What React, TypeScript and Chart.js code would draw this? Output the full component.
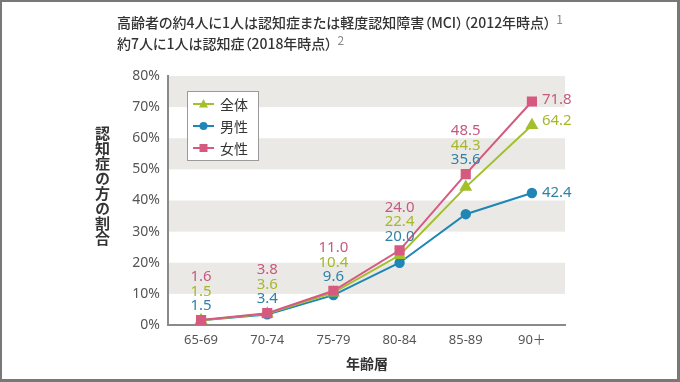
import { useEffect, useRef } from 'react';
import { Chart, registerables } from 'chart.js';

Chart.register(...registerables);

const categories = ['65-69', '70-74', '75-79', '80-84', '85-89', '90＋'];
const allValues = [1.5, 3.6, 10.4, 22.4, 44.3, 64.2];
const maleValues = [1.5, 3.4, 9.6, 20.0, 35.6, 42.4];
const femaleValues = [1.6, 3.8, 11.0, 24.0, 48.5, 71.8];
const seriesNames = ['全体', '男性', '女性'];
const bandRanges = [[70, 80], [50, 60], [30, 40], [10, 20]];

const JP = '"Noto Sans CJK JP", "Noto Sans", sans-serif';
const NUM = '"Noto Sans", "Noto Sans CJK JP", sans-serif';

const GREEN = '#a3bf2a';
const BLUE = '#1f86b5';
const PINK = '#d65a80';
const GREEN_T = '#a6b72c';
const BLUE_T = '#2f82a6';
const PINK_T = '#c55a80';

function drawMarker(ctx: CanvasRenderingContext2D, kind: string, x: number, y: number, color: string) {
  ctx.fillStyle = color;
  ctx.beginPath();
  if (kind === 'rect') {
    ctx.rect(x - 4, y - 4, 8, 8);
  } else if (kind === 'triangle') {
    ctx.moveTo(x, y - 5);
    ctx.lineTo(x + 4.5, y + 3.5);
    ctx.lineTo(x - 4.5, y + 3.5);
    ctx.closePath();
  } else {
    ctx.arc(x, y, 4, 0, Math.PI * 2);
  }
  ctx.fill();
}

const bandPlugin = {
  id: 'bands',
  beforeDatasetsDraw(chart: any) {
    const { ctx, chartArea, scales } = chart;
    const y = scales.y;
    ctx.save();
    ctx.fillStyle = '#ebe9e5';
    bandRanges.forEach(([a, b]) => {
      const t = y.getPixelForValue(b);
      const bt = y.getPixelForValue(a);
      ctx.fillRect(chartArea.left + 1, t, chartArea.right - chartArea.left - 1, bt - t);
    });
    ctx.restore();
  },
};

const labelPlugin = {
  id: 'valueLabels',
  afterDatasetsDraw(chart: any) {
    const { ctx, scales } = chart;
    const x = scales.x;
    const y = scales.y;
    ctx.save();
    ctx.font = `15px ${NUM}`;
    ctx.textBaseline = 'middle';
    const last = categories.length - 1;
    const rows: [number[], string][] = [
      [femaleValues, PINK_T],
      [allValues, GREEN_T],
      [maleValues, BLUE_T],
    ];
    categories.forEach((_, i) => {
      const px = x.getPixelForValue(i);
      if (i < last) {
        const top = y.getPixelForValue(femaleValues[i]);
        ctx.textAlign = 'center';
        rows.forEach(([vals, col], k) => {
          ctx.fillStyle = col;
          ctx.fillText(vals[i].toFixed(1), px, top - 43 + k * 14.5);
        });
      } else {
        ctx.textAlign = 'left';
        const offs = [-2, -4, 0];
        rows.forEach(([vals, col], k) => {
          ctx.fillStyle = col;
          ctx.fillText(vals[i].toFixed(1), px + 10, y.getPixelForValue(vals[i]) + offs[k]);
        });
      }
    });
    ctx.restore();
  },
};

const legendPlugin = {
  id: 'boxLegend',
  afterDraw(chart: any) {
    const { ctx, chartArea } = chart;
    const bx = chartArea.left + 19;
    const by = chartArea.top + 15;
    ctx.save();
    ctx.fillStyle = '#ffffff';
    ctx.fillRect(bx, by, 71, 69);
    ctx.strokeStyle = '#9a9a9a';
    ctx.lineWidth = 1;
    ctx.strokeRect(bx + 0.5, by + 0.5, 71, 69);
    const items: [string, string, string][] = [
      [seriesNames[0], GREEN, 'triangle'],
      [seriesNames[1], BLUE, 'circle'],
      [seriesNames[2], PINK, 'rect'],
    ];
    items.forEach(([name, col, kind], k) => {
      const cy = by + 13 + k * 22;
      ctx.strokeStyle = col;
      ctx.lineWidth = 2;
      ctx.beginPath();
      ctx.moveTo(bx + 6, cy);
      ctx.lineTo(bx + 27, cy);
      ctx.stroke();
      drawMarker(ctx, kind, bx + 16.5, cy, col);
      ctx.fillStyle = '#333333';
      ctx.font = `14px ${JP}`;
      ctx.textAlign = 'left';
      ctx.textBaseline = 'middle';
      ctx.fillText(name, bx + 33, cy + 1);
    });
    ctx.restore();
  },
};

export default function App() {
  const ref = useRef<HTMLCanvasElement | null>(null);

  useEffect(() => {
    if (!ref.current) return;
    const chart = new Chart(ref.current, {
      type: 'line',
      data: {
        labels: categories,
        datasets: [
          {
            label: seriesNames[0],
            data: allValues,
            borderColor: GREEN,
            backgroundColor: GREEN,
            pointStyle: 'triangle',
            pointRadius: 5.5,
            borderWidth: 2,
            order: 1,
          },
          {
            label: seriesNames[1],
            data: maleValues,
            borderColor: BLUE,
            backgroundColor: BLUE,
            pointStyle: 'circle',
            pointRadius: 4.2,
            borderWidth: 2,
            order: 2,
          },
          {
            label: seriesNames[2],
            data: femaleValues,
            borderColor: PINK,
            backgroundColor: PINK,
            pointStyle: 'rect',
            pointRadius: 5.8,
            borderWidth: 2,
            order: 0,
          },
        ],
      },
      options: {
        responsive: false,
        animation: false,
        layout: { padding: { left: 0, top: 76, right: 115, bottom: 0 } },
        plugins: {
          legend: { display: false },
          tooltip: { enabled: false },
        },
        elements: { point: { borderWidth: 0 }, line: { tension: 0 } },
        scales: {
          x: {
            offset: true,
            grid: { display: false, drawTicks: false },
            border: { display: true, color: '#8a8a8a', width: 2 },
            ticks: { color: '#555', font: { family: NUM, size: 13 }, padding: 7 },
            afterFit: (s: any) => { s.height = 57; },
          },
          y: {
            min: 0,
            max: 80,
            grid: { display: false, drawTicks: false },
            border: { display: true, color: '#8a8a8a', width: 2 },
            ticks: {
              stepSize: 10,
              color: '#555',
              padding: 8,
              font: { family: NUM, size: 14 },
              callback: (v: any) => `${v}%`,
            },
            afterFit: (s: any) => { s.width = 168; },
          },
        },
      },
      plugins: [bandPlugin, labelPlugin, legendPlugin],
    });
    return () => chart.destroy();
  }, []);

  const sup = { color: '#888', fontSize: 12, fontWeight: 400, position: 'relative' as const, top: -4, marginLeft: 5 };

  return (
    <div style={{ position: 'absolute', left: 0, top: 0, width: 680, height: 382, background: '#fff', overflow: 'hidden' }}>
      <canvas ref={ref} width={680} height={382} style={{ position: 'absolute', left: 0, top: 0, width: 680, height: 382 }} />
      <div style={{ position: 'absolute', left: 117, top: 12, fontFamily: JP, fontSize: 14, lineHeight: '21px', color: '#333', fontWeight: 500, whiteSpace: 'nowrap', fontFeatureSettings: '"palt"' }}>
        <div>
          高齢者の約4人に1人は認知症または軽度認知障害（MCI）（2012年時点）
          <span style={sup}>1</span>
        </div>
        <div>
          約7人に1人は認知症（2018年時点）
          <span style={sup}>2</span>
        </div>
      </div>
      <div style={{ position: 'absolute', left: 94, top: 126, writingMode: 'vertical-rl', fontFamily: JP, fontSize: 15, fontWeight: 700, color: '#333', lineHeight: '16px' }}>
        認知症の方の割合
      </div>
      <div style={{ position: 'absolute', left: 317, width: 100, top: 353, textAlign: 'center', fontFamily: JP, fontSize: 14, fontWeight: 700, color: '#333', lineHeight: '20px' }}>
        年齢層
      </div>
      <div style={{ position: 'absolute', left: 0, top: 0, width: 680, height: 382, boxSizing: 'border-box', border: '2px solid #787878', borderRightWidth: 3, borderBottomWidth: 3, pointerEvents: 'none' }} />
    </div>
  );
}
